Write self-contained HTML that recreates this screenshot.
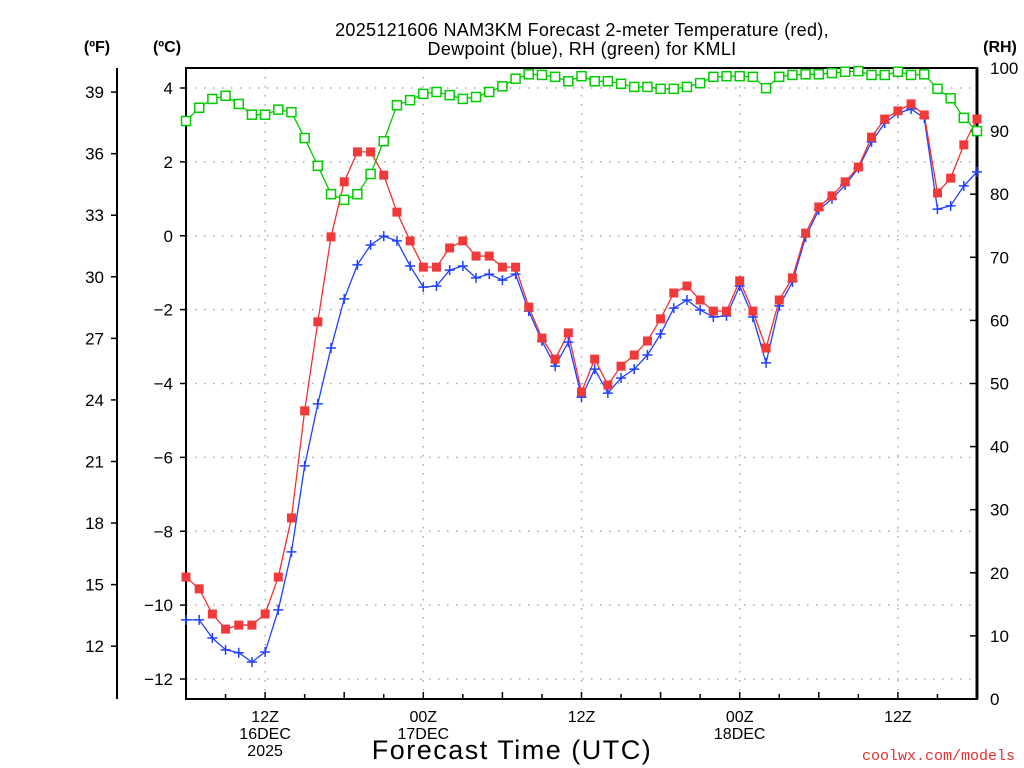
<!DOCTYPE html>
<html><head><meta charset="utf-8"><style>
html,body{margin:0;padding:0;background:#fff;}
svg{display:block;font-family:"Liberation Sans",sans-serif;}
</style></head><body>
<svg id="chart" width="1024" height="768" viewBox="0 0 1024 768" xmlns="http://www.w3.org/2000/svg">
<text x="582" y="36" text-anchor="middle" font-size="18" letter-spacing="0.3">2025121606 NAM3KM Forecast 2-meter Temperature (red),</text>
<text x="582" y="55" text-anchor="middle" font-size="18" letter-spacing="0.3">Dewpoint (blue), RH (green) for KMLI</text>
<text x="97" y="52" text-anchor="middle" font-size="16" font-weight="bold">(ºF)</text>
<text x="167" y="52" text-anchor="middle" font-size="16" font-weight="bold">(ºC)</text>
<text x="1000" y="52" text-anchor="middle" font-size="16" font-weight="bold">(RH)</text>
<text x="512" y="759" text-anchor="middle" font-size="27" letter-spacing="1.5">Forecast Time (UTC)</text>
<text x="1015" y="760" text-anchor="end" font-size="15" fill="#e03030" font-family="Liberation Mono, monospace">coolwx.com/models</text>
<g id="grid"></g><g id="axes"></g><g id="series"></g>
</svg>
<script>
const hours = [];
for (let i = 0; i <= 60; i++) hours.push(i);
const tempC = [-9.24,-9.56,-10.24,-10.65,-10.54,-10.54,-10.24,-9.24,-7.64,-4.74,-2.33,-0.03,1.46,2.27,2.27,1.64,0.64,-0.14,-0.85,-0.85,-0.33,-0.14,-0.55,-0.55,-0.85,-0.85,-1.93,-2.77,-3.34,-2.63,-4.23,-3.34,-4.04,-3.53,-3.23,-2.85,-2.25,-1.55,-1.36,-1.74,-2.04,-2.04,-1.22,-2.04,-3.04,-1.74,-1.14,0.07,0.78,1.08,1.46,1.86,2.67,3.16,3.38,3.57,3.27,1.16,1.56,2.46,3.16];
const dewC = [-10.40,-10.40,-10.89,-11.21,-11.29,-11.54,-11.27,-10.13,-8.56,-6.23,-4.55,-3.04,-1.71,-0.79,-0.25,-0.01,-0.14,-0.82,-1.39,-1.36,-0.93,-0.82,-1.14,-1.04,-1.20,-1.04,-2.04,-2.85,-3.53,-2.88,-4.37,-3.61,-4.26,-3.85,-3.61,-3.23,-2.66,-1.96,-1.74,-2.01,-2.20,-2.17,-1.36,-2.20,-3.44,-1.90,-1.25,-0.03,0.70,1.00,1.37,1.83,2.54,3.05,3.32,3.43,3.19,0.72,0.81,1.35,1.73];
const rh = [91.6,93.7,95.1,95.6,94.3,92.6,92.6,93.4,93.0,88.9,84.5,80.0,79.1,80.0,83.2,88.4,94.1,94.9,95.9,96.2,95.7,95.1,95.4,96.2,97.1,98.3,99.0,98.9,98.6,97.9,98.7,97.9,97.9,97.5,97.0,97.0,96.7,96.7,97.0,97.6,98.6,98.7,98.7,98.6,96.8,98.6,98.9,99.0,99.0,99.2,99.4,99.5,98.9,98.9,99.4,98.9,99.0,96.7,95.2,92.1,90.0];
const cTicks = [4,2,0,-2,-4,-6,-8,-10,-12];
const cTickLabels = ["4","2","0","−2","−4","−6","−8","−10","−12"];
const fTicks = [39,36,33,30,27,24,21,18,15,12];
const rhTicks = [100,90,80,70,60,50,40,30,20,10,0];
const xLabelHours = [6,18,30,42,54];
const xLabels = [["12Z","16DEC","2025"],["00Z","17DEC"],["12Z"],["00Z","18DEC"],["12Z"]];

const L=186,R=977,T=68,B=699;
const xs = h => L + h*(R-L)/60;
const yc = c => 88 + (4-c)*(679-88)/16;
const yf = f => yc((f-32)*5/9);
const yr = r => B - r*(B-T)/100;
const NS="http://www.w3.org/2000/svg";
function mk(parent,tag,attrs){const e=document.createElementNS(NS,tag);for(const k in attrs)e.setAttribute(k,attrs[k]);parent.appendChild(e);return e;}
const grid=document.getElementById('grid'),axes=document.getElementById('axes'),ser=document.getElementById('series');

cTicks.forEach((c,i)=>{
  const y=yc(c);
  const g=mk(grid,'line',{x1:L,x2:R,y1:y,y2:y,stroke:'#aaa','stroke-width':1.5,'stroke-dasharray':'1.5 7.5'});
  
  
  const t=mk(axes,'text',{x:173,y:y+6,'text-anchor':'end','font-size':17});
  t.textContent=cTickLabels[i];
  
  
  mk(axes,'line',{x1:L-6,x2:L,y1:y,y2:y,stroke:'#000','stroke-width':1.5});
});
xLabelHours.forEach((h,i)=>{
  const x=xs(h);
  const g=mk(grid,'line',{x1:x,x2:x,y1:T,y2:B,stroke:'#aaa','stroke-width':1.5,'stroke-dasharray':'1.5 7.5'});
  
  
  xLabels[i].forEach((s,j)=>{
    const t=mk(axes,'text',{x:x,y:722+j*17,'text-anchor':'middle','font-size':16});
    t.textContent=s;
    
    
  });
});
for(let h=0;h<=60;h+=3){
  const x=xs(h), len=(h%6===0)?7:5;
  mk(axes,'line',{x1:x,x2:x,y1:B,y2:B-len,stroke:'#000','stroke-width':1.5});
}
fTicks.forEach(f=>{
  const y=yf(f);
  mk(axes,'line',{x1:111,x2:117,y1:y,y2:y,stroke:'#000','stroke-width':1.5});
  const t=mk(axes,'text',{x:104,y:y+6,'text-anchor':'end','font-size':17});
  t.textContent=String(f);
  
  
});
rhTicks.forEach(r=>{
  const y=yr(r);
  mk(axes,'line',{x1:R,x2:R-7,y1:y,y2:y,stroke:'#000','stroke-width':1.5});
  const t=mk(axes,'text',{x:990,y:y+6,'text-anchor':'start','font-size':17});
  t.textContent=String(r);
  
  
});
const fl=mk(axes,'line',{x1:117,x2:117,y1:T,y2:B,stroke:'#000','stroke-width':2});


const fr=mk(axes,'path',{d:`M${L} ${T}H${R}V${B}H${L}Z`,fill:'none',stroke:'#000','stroke-width':2});


mk(axes,'line',{x1:R,x2:R,y1:T,y2:B,stroke:'#000','stroke-width':3});

function line(vals,fy,color,name){
  const p=mk(ser,'polyline',{points:vals.map((v,i)=>xs(hours[i])+','+fy(v)).join(' '),fill:'none',stroke:color,'stroke-width':1.3});
  
  
}
line(rh,yr,'#00cc00','rh-line');
line(dewC,yc,'#2040ff','dewpoint-line');
line(tempC,yc,'#f03030','temperature-line');
rh.forEach((v,i)=>{
  const r=mk(ser,'rect',{x:xs(hours[i])-4.5,y:yr(v)-4.5,width:9,height:9,fill:'#fff',stroke:'#00cc00','stroke-width':1.5});
  
  
});
dewC.forEach((v,i)=>{
  const x=xs(hours[i]),y=yc(v);
  const p=mk(ser,'path',{d:`M${x-5} ${y}H${x+5}M${x} ${y-5}V${y+5}`,stroke:'#2040ff','stroke-width':1.5});
  
  
});
tempC.forEach((v,i)=>{
  const r=mk(ser,'rect',{x:xs(hours[i])-4.5,y:yc(v)-4.5,width:9,height:9,fill:'#f03a3a'});
  
  
});
</script>
</body></html>
